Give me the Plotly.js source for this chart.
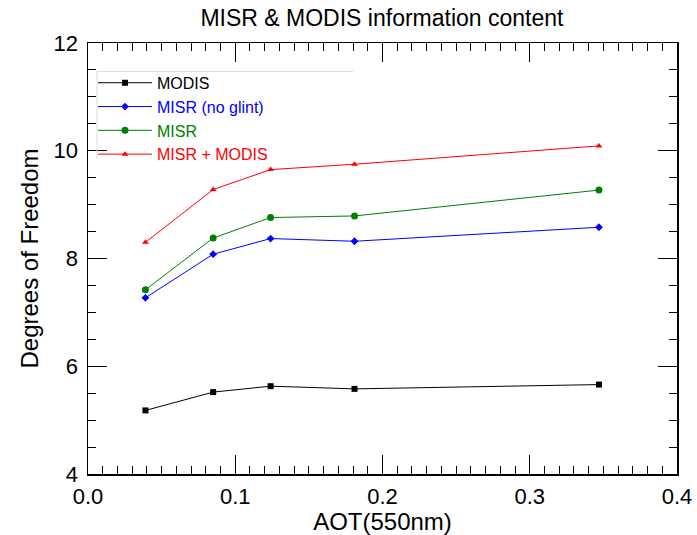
<!DOCTYPE html>
<html>
<head>
<meta charset="utf-8">
<script src="https://cdn.plot.ly/plotly-3.0.1.min.js"></script>
<style>html,body{margin:0;padding:0;background:#fff;}#chart{width:697px;height:535px;}</style>
</head>
<body>
<div id="chart"></div>
<script>
var aot = [0.039, 0.085, 0.124, 0.181, 0.347];
var modis = [5.18, 5.52, 5.63, 5.58, 5.66];
var misrNoGlint = [7.27, 8.08, 8.37, 8.32, 8.58];
var misr = [7.42, 8.38, 8.76, 8.79, 9.27];
var misrModis = [8.30, 9.28, 9.65, 9.75, 10.09];
var seriesNames = ['MODIS', 'MISR (no glint)', 'MISR', 'MISR + MODIS'];
var seriesColors = ['#000000', '#0000ff', '#008000', '#ff0000'];
var seriesSymbols = ['square', 'diamond', 'circle', 'triangle-up'];
var seriesSizes = [6, 6, 7, 6];
var seriesValues = [modis, misrNoGlint, misr, misrModis];

var traces = seriesValues.map(function (vals, i) {
  return {
    x: aot, y: vals, type: 'scatter', mode: 'lines+markers',
    name: '<span style="color:' + seriesColors[i] + '">' + seriesNames[i] + '</span>',
    line: {color: seriesColors[i], width: 1},
    marker: {color: seriesColors[i], symbol: seriesSymbols[i], size: seriesSizes[i]}
  };
});

var font = 'Liberation Sans, Arial, Helvetica, sans-serif';
var axisCommon = {
  showgrid: false, zeroline: false, showline: true, linecolor: '#000', linewidth: 1.5,
  mirror: 'ticks', ticks: 'inside', ticklen: 19, tickwidth: 1, tickcolor: '#000',
  tickfont: {family: font, size: 22, color: '#000'}
};
var layout = {
  width: 697, height: 535,
  margin: {l: 88, r: 20, t: 43, b: 61},
  paper_bgcolor: '#fff', plot_bgcolor: '#fff',
  title: {text: 'MISR &amp; MODIS information content', x: 0.548, xanchor: 'center', y: 0.966, yanchor: 'middle',
          font: {family: font, size: 23, color: '#000'}},
  xaxis: Object.assign({}, axisCommon, {
    range: [0, 0.4], dtick: 0.1, tick0: 0, tickformat: '.1f', ticklabelstandoff: 2,
    minor: {dtick: 0.01, ticks: 'inside', ticklen: 8, tickcolor: '#000', tickwidth: 1},
    title: {text: 'AOT(550nm)', font: {family: font, size: 24, color: '#000'}, standoff: 2}
  }),
  yaxis: Object.assign({}, axisCommon, {
    range: [4, 12], dtick: 2, tick0: 4, ticklabelstandoff: 4,
    minor: {dtick: 0.5, ticks: 'inside', ticklen: 8, tickcolor: '#000', tickwidth: 1},
    title: {text: 'Degrees of Freedom', font: {family: font, size: 24, color: '#000'}, standoff: 8}
  }),
  showlegend: true,
  legend: {x: 0.0085, y: 0.947, xanchor: 'left', yanchor: 'top', bgcolor: 'rgba(0,0,0,0)',
           borderwidth: 0, font: {family: font, size: 16, color: '#000'}, itemwidth: 54,
           tracegroupgap: 0},
  shapes: [
    {type: 'line', xref: 'paper', yref: 'paper', x0: 0.0153, x1: 0.45, y0: 0.934, y1: 0.934,
     line: {color: '#dddddd', width: 1}},
    {type: 'line', xref: 'paper', yref: 'paper', x0: 0.0153, x1: 0.0153, y0: 0.934, y1: 0.731,
     line: {color: '#dddddd', width: 1}}
  ]
};
Plotly.newPlot('chart', traces, layout, {displayModeBar: false, staticPlot: true});
</script>
</body>
</html>
